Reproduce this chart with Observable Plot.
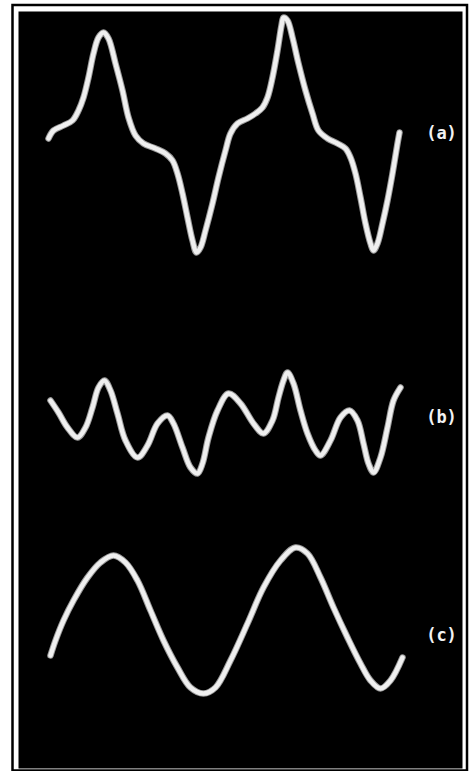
<!DOCTYPE html>
<html>
<head>
<meta charset="utf-8">
<script src="https://cdn.jsdelivr.net/npm/d3@7"></script>
<script src="https://cdn.jsdelivr.net/npm/@observablehq/plot@0.6"></script>
<style>
  html, body { margin: 0; padding: 0; background: #ffffff; }
  #chart svg { display: block; }
</style>
</head>
<body>
<div id="chart"></div>
<script>
// Trace (a)
const aX = [48,53,63,72,78,83,88,93,98,103,108,115,122,128,135,143,155,165,172,177,182,187,192,196,200,205,212,218,225,230,237,247,255,262,267,272,277,281,283,287,292,298,305,312,318,327,337,345,350,355,360,365,370,373,377,382,387,392,397,399];
const aY = [138,130,125,120,110,97,77,53,37,32,38,63,90,117,135,143,148,153,160,173,193,217,240,252,247,230,203,177,150,133,123,118,113,107,97,77,50,25,17,20,37,63,90,113,130,138,143,148,157,173,197,223,243,250,243,223,200,173,143,132];
// Trace (b)
const bX = [50,58,67,77,85,92,98,104,110,117,125,137,147,157,167,173,182,190,197,202,208,217,228,240,253,263,272,278,283,287,293,300,307,315,320,330,340,349,357,363,368,373,380,387,393,400];
const bY = [400,412,427,437,427,407,387,380,390,413,440,457,445,423,415,423,447,467,473,463,437,410,393,403,423,433,420,397,380,372,383,410,433,450,455,440,417,410,420,443,463,472,457,427,400,387];
// Trace (c)
const cX = [50,55,63,73,87,100,113,125,137,150,163,177,190,203,215,230,247,263,280,295,307,320,333,347,360,370,380,390,402];
const cY = [655,640,620,600,577,562,555,562,580,610,640,667,687,693,687,660,623,587,560,547,553,577,607,637,663,680,688,680,657];

// Labels
const labelNames = ["(a)", "(b)", "(c)"];
const labelX = [441, 441, 441];
const labelY = [133, 417, 635];

const traces = [
  {name: "a", xs: aX, ys: aY},
  {name: "b", xs: bX, ys: bY},
  {name: "c", xs: cX, ys: cY}
];
const rows = traces.flatMap(t => t.xs.map((x, i) => ({trace: t.name, x, y: t.ys[i]})));
const labels = labelNames.map((s, i) => ({s, x: labelX[i], y: labelY[i]}));

const plot = Plot.plot({
  width: 473,
  height: 771,
  marginLeft: 18,
  marginTop: 11,
  marginRight: 11,
  marginBottom: 3,
  style: {background: "#ffffff", overflow: "visible"},
  x: {domain: [18, 462], axis: null},
  y: {domain: [768, 11], axis: null},
  marks: [
    Plot.frame({stroke: "#000", strokeWidth: 2.5, insetLeft: -6, insetTop: -6.5, insetRight: -4.5, insetBottom: -2}),
    Plot.frame({fill: "#000", stroke: null}),
    Plot.line(rows, {x: "x", y: "y", z: "trace", curve: "catmull-rom", stroke: "#9a9a9a", strokeWidth: 6.5, strokeLinecap: "round", strokeLinejoin: "round"}),
    Plot.line(rows, {x: "x", y: "y", z: "trace", curve: "catmull-rom", stroke: "#efefef", strokeWidth: 4.5, strokeLinecap: "round", strokeLinejoin: "round"}),
    Plot.text(labels, {x: "x", y: "y", text: "s", fill: "#f2f2f2", fontSize: 17, fontWeight: "bold", fontFamily: "DejaVu Sans Mono", textAnchor: "middle", style: "letter-spacing:3px"})
  ]
});
document.getElementById("chart").appendChild(plot);
</script>
</body>
</html>
